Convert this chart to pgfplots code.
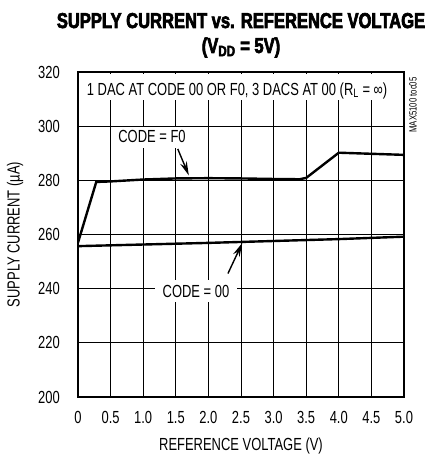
\documentclass[border=0pt]{standalone}
\usepackage{fontspec}
\setmainfont{Liberation Sans}[FakeStretch=0.74]
\newfontfamily\titlefont{Liberation Sans}[FakeStretch=0.77,FakeBold=3]
\usepackage{pgfplots}
\pgfplotsset{compat=1.18}
\usetikzlibrary{arrows.meta}
\newcommand{\lbl}{\fontsize{17.5}{19}\selectfont}
\begin{document}
\begin{tikzpicture}
\useasboundingbox (-78pt,-58pt) rectangle (346pt,397pt);
\begin{axis}[
  at={(0pt,0pt)}, anchor=south west,
  scale only axis, width=326pt, height=325pt,
  xmin=0, xmax=5, ymin=200, ymax=320,
  xtick={0,0.5,1,1.5,2,2.5,3,3.5,4,4.5,5},
  xticklabels={0,0.5,1.0,1.5,2.0,2.5,3.0,3.5,4.0,4.5,5.0},
  ytick={200,220,240,260,280,300,320},
  yticklabels={200,220,240,260,280,300,320},
  /pgf/number format/assume math mode=true,
  grid=major,
  major grid style={black, line width=0.7pt},
  major tick length=0pt,
  axis line style={line width=2.4pt},
  tick label style={font=\lbl},
  xticklabel style={anchor=north, inner sep=0pt, yshift=-14pt},
  yticklabel style={anchor=east, inner sep=0pt, xshift=-18pt},
  label style={font=\lbl},
  xlabel={REFERENCE VOLTAGE (V)},
  ylabel={SUPPLY CURRENT (µA)},
  xlabel style={at={(axis description cs:0.5,-0.166)}, anchor=base},
  ylabel style={at={(axis description cs:-0.193,0.5)}, anchor=center},
]
\addplot[black, line width=2.4pt] coordinates {
  (0,257) (0.28,279.4) (0.5,279.6) (1.0,280.3) (1.5,280.7) (2.0,280.8)
  (2.5,280.7) (3.0,280.5) (3.4,280.4) (3.5,280.9) (4.0,290.2) (4.5,289.8) (5.0,289.4)
};
\addplot[black, line width=2.4pt] coordinates {
  (0,255.7) (1,256.3) (2,256.9) (3,257.6) (4,258.3) (5,259.2)
};
\fill[white] (axis cs:0.03,309.7) rectangle (axis cs:4.97,319.3);
\node[anchor=base, font=\lbl, inner sep=0pt] at (axis cs:2.44,311.5)
  {1 DAC AT CODE 00 OR F0, 3 DACS AT 00 (R\textsubscript{L} = ∞)};
\fill[white] (axis cs:0.53,299.6) rectangle (axis cs:1.75,292);
\node[anchor=base, font=\lbl, inner sep=0pt] at (axis cs:1.135,293.8) {CODE = F0};
\fill[white] (axis cs:1.18,243.2) rectangle (axis cs:2.44,235.1);
\node[anchor=base, font=\lbl, inner sep=0pt] at (axis cs:1.81,236.9) {CODE = 00};
\draw[line width=1.4pt, -{Stealth[length=14pt,width=7pt]}] (axis cs:1.53,291.6) -- (axis cs:1.70,281.8);
\draw[line width=1.4pt, -{Stealth[length=14pt,width=7pt]}] (axis cs:2.30,245.6) -- (axis cs:2.52,256.9);
\end{axis}
\node[rotate=90, font=\fontsize{10.5}{11}\selectfont] at (335pt,292pt) {MAX5100 toc05};
\node[anchor=base, font=\titlefont\bfseries\fontsize{21.5}{24}\selectfont] at (163pt,369pt)
  {SUPPLY CURRENT vs. REFERENCE VOLTAGE};
\node[anchor=base, font=\titlefont\bfseries\fontsize{21.5}{24}\selectfont] at (163pt,344pt)
  {(V\textsubscript{DD} = 5V)};
\end{tikzpicture}
\end{document}
